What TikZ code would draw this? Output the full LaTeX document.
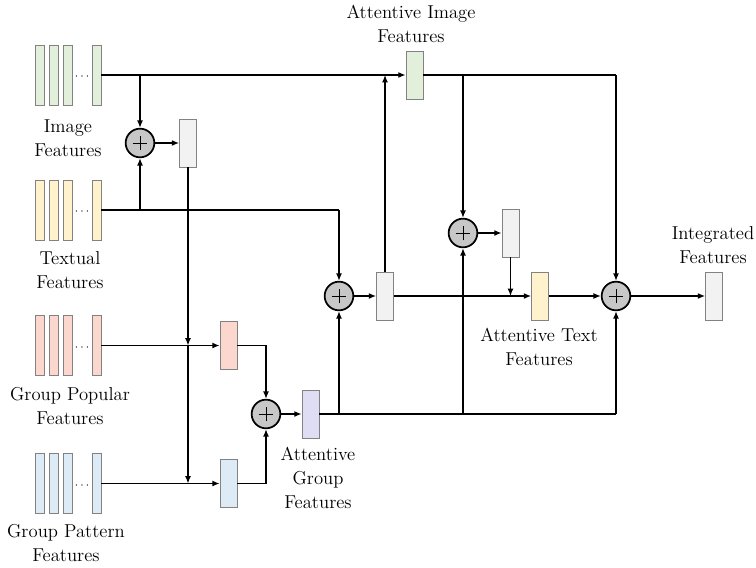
\documentclass[tikz,border=0pt]{standalone}
\usepackage{tikz}
\usetikzlibrary{arrows.meta, positioning, calc}
\definecolor{imgC}{RGB}{226,239,218}
\definecolor{txtC}{RGB}{255,242,204}
\definecolor{popC}{RGB}{251,215,206}
\definecolor{patC}{RGB}{221,235,247}
\definecolor{grpC}{RGB}{222,221,243}
\definecolor{midC}{RGB}{242,242,242}
\definecolor{edgeC}{RGB}{130,130,130}
\tikzset{
    fbar/.style={rectangle, draw=edgeC, fill=#1, line width=0.6pt,
                 minimum width=6.75pt, minimum height=45pt, inner sep=0pt},
    fbar/.default=midC,
    vec/.style={rectangle, draw=edgeC, fill=#1, line width=0.6pt,
                minimum width=12.75pt, minimum height=36pt, inner sep=0pt},
    vec/.default=midC,
    addop/.style={circle, draw=black, fill=black!22, line width=1.3pt,
                  minimum size=21.5pt, inner sep=0pt,
                  path picture={
                    \draw[line width=0.6pt] ([xshift=-5.5pt]path picture bounding box.center) -- ([xshift=5.5pt]path picture bounding box.center);
                    \draw[line width=0.6pt] ([yshift=-5.5pt]path picture bounding box.center) -- ([yshift=5.5pt]path picture bounding box.center);
                  }},
    flow/.style={-{Latex[length=5.5pt, width=4.5pt]}, line width=1pt},
    wire/.style={line width=1pt},
    lbl/.style={align=center, font=\fontsize{14}{18}\selectfont, inner sep=0pt}
}

\begin{document}
\begin{tikzpicture}[x=0.75pt, y=-0.75pt]
    \useasboundingbox (0,0) rectangle (756,567);
    % input feature stacks
    \foreach \nm/\col/\yy in {img/imgC/75, txt/txtC/210, pop/popC/345.5, pat/patC/483.5} {
        \foreach \k/\xx in {1/39.5, 2/53.5, 3/67.5, 4/96.5}
            \node[fbar=\col] (\nm\k) at (\xx,\yy) {};
        \node[inner sep=0pt, font=\small] (\nm d) at (82,\yy+2) {$\cdots$};
    }
    \node[lbl] (imgL) at (68,138) {Image\\Features};
    \node[lbl] (txtL) at (70,270) {Textual\\Features};
    \node[lbl] (popL) at (70,406) {Group Popular\\Features};
    \node[lbl] (patL) at (66,543) {Group Pattern\\Features};

    % adders
    \node[addop] (addIT) at (140,143) {};
    \node[addop] (addG) at (266,414) {};
    \node[addop] (addA) at (339,296) {};
    \node[addop] (addT) at (463,233) {};
    \node[addop] (addF) at (616,296) {};

    % intermediate vectors
    \node[vec] (mixIT) at (188,143) {};
    \node[vec=popC] (popA) at (228.5,345.5) {};
    \node[vec=patC] (patA) at (228.5,483.5) {};
    \node[vec=grpC] (grpA) at (310.5,414) {};
    \node[vec] (mixA) at (385,296) {};
    \node[vec=imgC] (imgA) at (414.5,75) {};
    \node[vec] (mixT) at (510.5,233) {};
    \node[vec=txtC] (txtA) at (540,296) {};
    \node[vec] (outF) at (714,296) {};

    \node[lbl] (imgAL) at (411,24) {Attentive Image\\Features};
    \node[lbl] (grpAL) at (318,478) {Attentive\\Group\\Features};
    \node[lbl] (txtAL) at (539,347) {Attentive Text\\Features};
    \node[lbl] (outL) at (713,245) {Integrated\\Features};

    % junction points
    \coordinate (jImg) at (140,75);
    \coordinate (jTxt) at (140,210);
    \coordinate (jTxtR) at (339,210);
    \coordinate (jPop) at (188,345.5);
    \coordinate (jPat) at (188,483.5);
    \coordinate (jG1) at (339,414);
    \coordinate (jG2) at (463,414);
    \coordinate (jG3) at (616,414);
    \coordinate (jA1) at (463,75);
    \coordinate (jA2) at (616,75);
    \coordinate (jUp) at (385,75);
    \coordinate (jDn) at (510.5,296);

    % image and text paths
    \draw[flow] (img4.east) -- (imgA.west);
    \draw[flow] (jImg) -- (addIT.north);
    \draw[wire] (txt4.east) -- (jTxtR);
    \draw[flow] (jTxtR) -- (addA.north);
    \draw[flow] (jTxt) -- (addIT.south);
    \draw[flow] (addIT.east) -- (mixIT.west);
    \draw[flow] (mixIT.south) -- (jPop);
    \draw[flow] (jPop) -- (jPat);

    % group paths
    \draw[flow] (pop4.east) -- (popA.west);
    \draw[flow] (pat4.east) -- (patA.west);
    \draw[flow] (popA.east) -| (addG.north);
    \draw[flow] (patA.east) -| (addG.south);
    \draw[flow] (addG.east) -- (grpA.west);
    \draw[wire] (grpA.east) -- (jG3);
    \draw[flow] (jG1) -- (addA.south);
    \draw[flow] (jG2) -- (addT.south);
    \draw[flow] (jG3) -- (addF.south);

    % attention paths
    \draw[flow] (addA.east) -- (mixA.west);
    \draw[flow] (mixA.north) -- (jUp);
    \draw[flow] (mixA.east) -- (txtA.west);
    \draw[wire] (imgA.east) -- (jA2);
    \draw[flow] (jA2) -- (addF.north);
    \draw[flow] (jA1) -- (addT.north);
    \draw[flow] (addT.east) -- (mixT.west);
    \draw[flow] (mixT.south) -- (jDn);
    \draw[flow] (txtA.east) -- (addF.west);
    \draw[flow] (addF.east) -- (outF.west);
\end{tikzpicture}
\end{document}
